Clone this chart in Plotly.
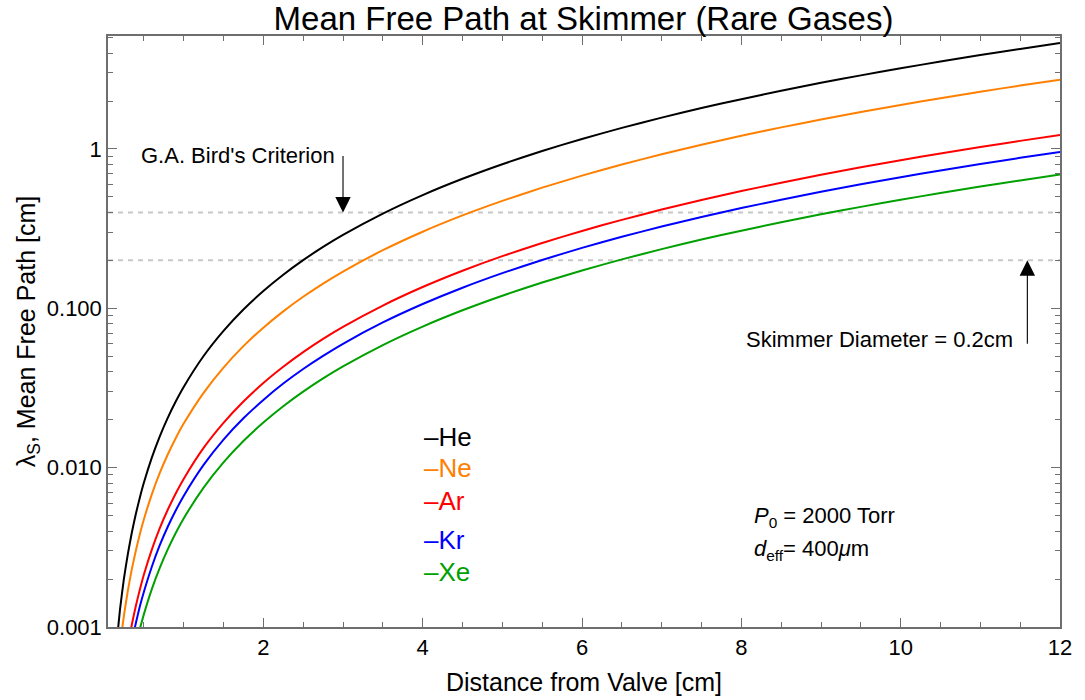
import plotly.graph_objects as go

# Distance from the valve [cm] at which the mean free path is tabulated
distance = [0.15, 0.2, 0.25, 0.3, 0.35, 0.4, 0.45, 0.5,
            0.6, 0.7, 0.8, 0.9, 1.0,
            1.25, 1.5, 1.75, 2.0, 2.25, 2.5, 2.75, 3.0,
            3.5, 4.0, 4.5, 5.0, 5.5, 6.0, 6.5, 7.0, 7.5, 8.0, 8.5, 9.0, 9.5, 10.0,
            10.5, 11.0, 11.5, 12.0]

# Mean free path at the skimmer [cm] for each rare gas
he = [0.000722, 0.00128, 0.00201, 0.00289, 0.00393, 0.00514, 0.0065, 0.00803,
      0.01156, 0.01573, 0.02054, 0.026, 0.0321,
      0.0502, 0.0722, 0.0983, 0.1284, 0.1625, 0.2006, 0.2428, 0.2889,
      0.3932, 0.5136, 0.65, 0.8025, 0.971, 1.156, 1.356, 1.573, 1.806, 2.054, 2.319,
      2.600, 2.897, 3.21, 3.539, 3.884, 4.245, 4.622]
ne = [0.000425, 0.000756, 0.00118, 0.0017, 0.00232, 0.00302, 0.00383, 0.00473,
      0.0068, 0.00926, 0.0121, 0.0153, 0.0189,
      0.0295, 0.0425, 0.0579, 0.0756, 0.0957, 0.1181, 0.1429, 0.1701,
      0.2315, 0.3024, 0.3827, 0.4725, 0.5717, 0.6804, 0.7985, 0.9261, 1.063, 1.21, 1.366,
      1.531, 1.706, 1.89, 2.084, 2.287, 2.5, 2.722]
ar = [0.000191, 0.00034, 0.000531, 0.000765, 0.00104, 0.00136, 0.00172, 0.00213,
      0.00306, 0.00417, 0.00544, 0.00689, 0.0085,
      0.0133, 0.0191, 0.026, 0.034, 0.043, 0.0531, 0.0643, 0.0765,
      0.1041, 0.136, 0.1721, 0.2125, 0.2571, 0.306, 0.3591, 0.4165, 0.4781, 0.544, 0.6141,
      0.6885, 0.7671, 0.85, 0.9371, 1.0285, 1.1241, 1.224]
kr = [0.00015, 0.000266, 0.000416, 0.000599, 0.000815, 0.00106, 0.00135, 0.00166,
      0.00239, 0.00326, 0.00426, 0.00539, 0.00665,
      0.0104, 0.015, 0.0204, 0.0266, 0.0337, 0.0416, 0.0503, 0.0599,
      0.0815, 0.1064, 0.1347, 0.1663, 0.2012, 0.2394, 0.281, 0.3259, 0.3741, 0.4256, 0.4805,
      0.5387, 0.6002, 0.665, 0.7332, 0.8047, 0.8795, 0.9576]
xe = [0.000108, 0.000192, 0.0003, 0.000432, 0.000588, 0.000768, 0.000972, 0.0012,
      0.00173, 0.00235, 0.00307, 0.00389, 0.0048,
      0.0075, 0.0108, 0.0147, 0.0192, 0.0243, 0.03, 0.0363, 0.0432,
      0.0588, 0.0768, 0.0972, 0.12, 0.1452, 0.1728, 0.2028, 0.2352, 0.27, 0.3072, 0.3468,
      0.3888, 0.4332, 0.48, 0.5292, 0.5808, 0.6348, 0.6912]

gases = ["He", "Ne", "Ar", "Kr", "Xe"]
series = [he, ne, ar, kr, xe]
colors = ["#000000", "#FF8000", "#FF0000", "#0000FF", "#00A000"]

# Reference levels: Bird's criterion (2x skimmer diameter) and skimmer diameter
bird_level = 0.4
skimmer_level = 0.2
x_span = [0.05, 12.0]

y_ticks = [0.001, 0.01, 0.1, 1]
y_tick_text = ["0.001", "0.010", "0.100", "1"]
x_ticks = [2, 4, 6, 8, 10, 12]

FONT = "Liberation Sans, Arial, sans-serif"
FRAME = "#6E6E6E"

fig = go.Figure()

for level in (bird_level, skimmer_level):
    fig.add_trace(go.Scatter(
        x=x_span, y=[level, level], mode="lines",
        line=dict(color="#C8C8C8", width=2, dash="5px,5px"),
        hoverinfo="skip", showlegend=False))

for name, vals, col in zip(gases, series, colors):
    fig.add_trace(go.Scatter(
        x=distance, y=vals, mode="lines", name=name,
        line=dict(color=col, width=2, shape="spline", smoothing=0.5),
        showlegend=False))

axis_common = dict(
    showline=True, linecolor=FRAME, linewidth=1.5, mirror="allticks",
    ticks="inside", tickcolor=FRAME, tickwidth=1.2, ticklen=9,
    showgrid=False, zeroline=False, automargin=False,
    tickfont=dict(family=FONT, size=22, color="#000000"),
)

fig.update_xaxes(
    range=x_span, tickvals=x_ticks,
    minor=dict(dtick=0.5, ticks="inside", ticklen=5, tickcolor=FRAME, showgrid=False),
    title=dict(text="Distance from Valve [cm]", font=dict(family=FONT, size=25, color="#000000"),
               standoff=14),
    **axis_common)

fig.update_yaxes(
    type="log", range=[-3, 0.709], tickvals=y_ticks, ticktext=y_tick_text,
    minor=dict(dtick="D1", ticks="inside", ticklen=5, tickcolor=FRAME, showgrid=False),
    title=dict(text="λ<sub>S</sub>, Mean Free Path [cm]",
               font=dict(family=FONT, size=25, color="#000000"), standoff=4),
    **axis_common)

annotations = [
    # Bird's criterion arrow and label
    dict(x=3.0, y=-0.398, xref="x", yref="y", ax=0, ay=-58, axref="pixel", ayref="pixel",
         showarrow=True, arrowhead=2, arrowsize=2.8, arrowwidth=1.1, arrowcolor="#000000",
         text=""),
    dict(x=2.93, y=-0.038, xref="x", yref="y", xanchor="right", yanchor="middle",
         showarrow=False, text="G.A. Bird's Criterion",
         font=dict(family=FONT, size=22, color="#000000")),
    # Skimmer diameter arrow and label
    dict(x=11.59, y=-0.699, xref="x", yref="y", ax=0, ay=85, axref="pixel", ayref="pixel",
         showarrow=True, arrowhead=2, arrowsize=2.8, arrowwidth=1.1, arrowcolor="#000000",
         text=""),
    dict(x=11.435, y=-1.193, xref="x", yref="y", xanchor="right", yanchor="middle",
         showarrow=False, text="Skimmer Diameter = 0.2cm",
         font=dict(family=FONT, size=22, color="#000000")),
    # Source conditions
    dict(x=8.13, y=-2.310, xref="x", yref="y", xanchor="left", yanchor="middle",
         showarrow=False, text="<i>P</i><sub>0</sub> = 2000 Torr",
         font=dict(family=FONT, size=22, color="#000000")),
    dict(x=8.13, y=-2.517, xref="x", yref="y", xanchor="left", yanchor="middle",
         showarrow=False, text="<i>d</i><sub>eff</sub>= 400<i>μ</i>m",
         font=dict(family=FONT, size=22, color="#000000")),
]

# Hand-placed key for the gases
key_y = [-1.806, -2.004, -2.210, -2.454, -2.653]
for name, col, ky in zip(gases, colors, key_y):
    annotations.append(dict(
        x=3.99, y=ky, xref="x", yref="y", xanchor="left", yanchor="middle",
        showarrow=False, text="–" + name,
        font=dict(family=FONT, size=26, color=col)))

fig.update_layout(
    width=1085, height=700,
    margin=dict(l=108, r=25, t=36, b=73),
    paper_bgcolor="#FFFFFF", plot_bgcolor="#FFFFFF",
    title=dict(text="Mean Free Path at Skimmer (Rare Gases)", x=0.5378, xanchor="center",
               y=0.974, yanchor="middle", font=dict(family=FONT, size=33, color="#000000")),
    annotations=annotations,
)

fig.write_html("out.html")
